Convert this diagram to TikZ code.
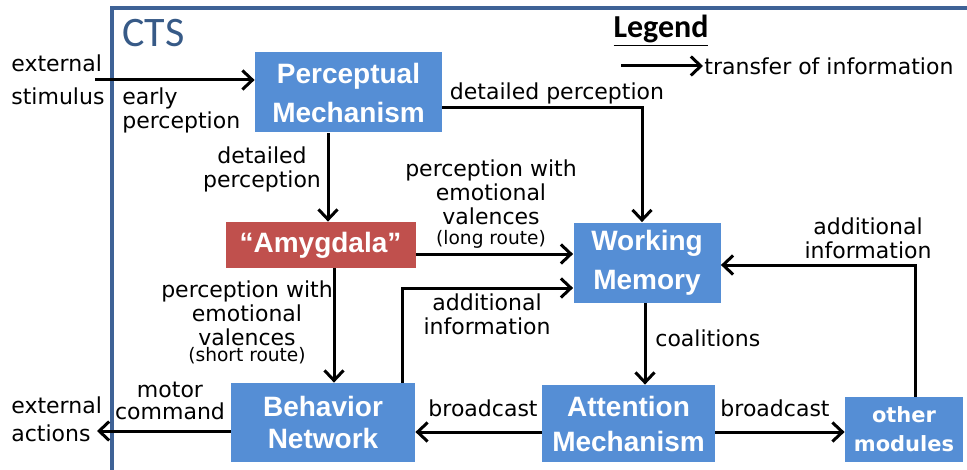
\documentclass[tikz,border=0pt]{standalone}
\usepackage{fontspec}
\setmainfont{DejaVu Sans}
\newfontfamily\boxfont{Liberation Sans}
\newfontfamily\ctsfont{Carlito}
\usetikzlibrary{arrows.meta}
\definecolor{boxblue}{RGB}{85,142,213}
\definecolor{boxred}{RGB}{192,80,77}
\definecolor{framecol}{RGB}{62,98,150}
\definecolor{ctscol}{RGB}{55,90,135}
\begin{document}
\begin{tikzpicture}[x=0.5pt,y=-0.5pt,
  arr/.style={line width=1.5pt,-{Straight Barb[length=5pt,width=9.5pt]}},
  box/.style={fill=boxblue,text=white,align=center,inner sep=0pt},
  lbl/.style={font=\fontsize{11}{12}\selectfont,inner sep=0pt,align=center},
  small/.style={font=\fontsize{9.3}{10}\selectfont,inner sep=0pt}]
\useasboundingbox (0,0) rectangle (967,470);
% frame
\draw[framecol,line width=2pt] (111.5,480) -- (111.5,8.5) -- (980,8.5);
\node[anchor=west,inner sep=0pt,text=ctscol,font=\ctsfont\fontsize{21}{24}\selectfont] (cts) at (122,33) {CTS};
% legend
\node[inner sep=0pt,font=\ctsfont\bfseries\fontsize{16}{18}\selectfont] (legend) at (661,31) {\underline{Legend}};
\coordinate (lga) at (621,66);
\coordinate (lgb) at (703,66);
\draw[arr] (lga) -- (lgb);
\node[lbl,anchor=west] (lgt) at (704,66) {transfer of information};
% boxes
\node[box,minimum width=93.5pt,minimum height=40pt,font=\boxfont\bfseries\fontsize{14}{19.5}\selectfont] (PM) at (348.5,92.5) {Perceptual\\Mechanism};
\node[box,fill=boxred,minimum width=95pt,minimum height=23pt,font=\boxfont\bfseries\fontsize{14}{16}\selectfont] (AMY) at (320.5,245) {“Amygdala”};
\node[box,minimum width=73.5pt,minimum height=40pt,font=\boxfont\bfseries\fontsize{14}{19.5}\selectfont] (WM) at (647,262.5) {Working\\Memory};
\node[box,minimum width=92pt,minimum height=39.5pt,font=\boxfont\bfseries\fontsize{14}{16}\selectfont] (BN) at (323,422.5) {Behavior\\Network};
\node[box,minimum width=86.5pt,minimum height=38.5pt,font=\boxfont\bfseries\fontsize{14}{17.5}\selectfont] (AM) at (628.5,423.5) {Attention\\Mechanism};
\node[box,minimum width=59pt,minimum height=32.5pt,font=\bfseries\fontsize{10.5}{14.5}\selectfont] (OM) at (904,429.5) {other\\modules};
% connectors
\coordinate (stim) at (95,80);
\draw[arr] (stim) -- (PM.west |- stim);
\coordinate (pmwm) at (642,108);
\draw[arr] (PM.east |- pmwm) -- (pmwm) -- (WM.north -| pmwm);
\coordinate (pa) at (328,0);
\draw[arr] (PM.south -| pa) -- (AMY.north -| pa);
\coordinate (aw) at (0,254);
\draw[arr] (AMY.east |- aw) -- (WM.west |- aw);
\coordinate (ab) at (334,0);
\draw[arr] (AMY.south -| ab) -- (BN.north -| ab);
\coordinate (bw) at (402,288);
\draw[arr] (BN.north -| bw) -- (bw) -- (WM.west |- bw);
\coordinate (wa) at (645,0);
\draw[arr] (WM.south -| wa) -- (AM.north -| wa);
\coordinate (ay) at (0,432);
\draw[arr] (AM.west |- ay) -- (BN.east |- ay);
\draw[arr] (AM.east |- ay) -- (OM.west |- ay);
\coordinate (ow) at (915,265);
\draw[arr] (OM.north -| ow) -- (ow) -- (WM.east |- ow);
\coordinate (ext) at (97,431);
\draw[arr] (BN.west |- ext) -- (ext);
% labels
\node[lbl,anchor=west,align=left,font=\fontsize{11}{16.5}\selectfont] (l1) at (11,80) {external\\stimulus};
\node[lbl,anchor=west,align=left] (l2) at (122,110) {early\\perception};
\node[lbl] (l3) at (557,93) {detailed perception};
\node[lbl] (l4) at (262,169) {detailed\\perception};
\node[lbl] (l5) at (491,192) {perception with\\emotional\\valences};
\node[small] (l5s) at (491,239) {(long route)};
\node[lbl] (l6) at (247,313) {perception with\\emotional\\valences};
\node[small] (l6s) at (247,356) {(short route)};
\node[lbl] (l7) at (487,314) {additional\\information};
\node[lbl,anchor=west] (l8) at (655,338) {coalitions};
\node[lbl] (l9) at (483,408) {broadcast};
\node[lbl] (l10) at (775,408) {broadcast};
\node[lbl] (l11) at (868,238) {additional\\information};
\node[lbl,anchor=west,align=left,font=\fontsize{11}{14}\selectfont] (l12) at (11,419) {external\\actions};
\node[lbl,font=\fontsize{11}{11}\selectfont] (l13) at (170,401) {motor\\command};
\end{tikzpicture}
\end{document}
